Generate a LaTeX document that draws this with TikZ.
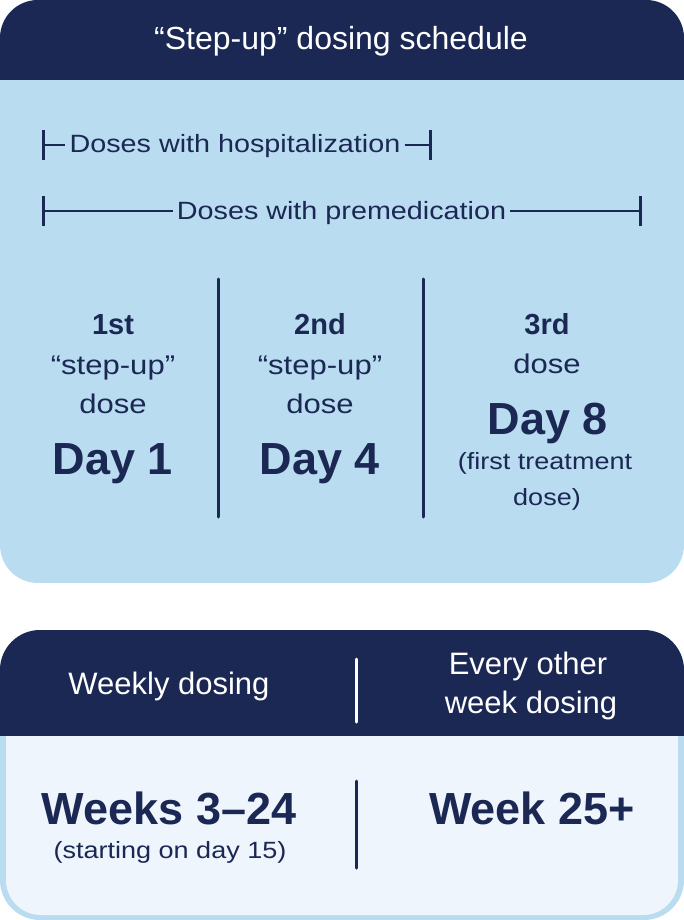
\documentclass[tikz,border=0pt]{standalone}
\usepackage{fontspec}
\setmainfont{Liberation Sans}
\newfontfamily\widefont{Liberation Sans}[FakeStretch=1.15]
\usetikzlibrary{arrows.meta}
\definecolor{navy}{HTML}{1B2854}
\definecolor{sky}{HTML}{B9DCF0}
\definecolor{pale}{HTML}{EEF5FC}

\begin{document}
\begin{tikzpicture}[
            x=1pt, y=-1pt,
            head/.style={
                text=white,
                anchor=base,
                font=\fontsize{31}{38}\selectfont
            },
            lbl/.style={
                text=navy,
                anchor=base,
                font=\widefont\fontsize{27}{32}\selectfont
            },
            note/.style={
                lbl,
                font=\widefont\fontsize{23.5}{28}\selectfont
            },
            ordinal/.style={
                text=navy,
                anchor=base,
                font=\bfseries\fontsize{29}{34}\selectfont
            },
            big/.style={
                text=navy,
                anchor=base,
                font=\bfseries\fontsize{45}{54}\selectfont
            },
            span/.style={
                draw=navy,
                line width=2.8pt
            },
            sep/.style={
                line width=3pt,
                line cap=round
            }
        ]
            \useasboundingbox (0,0) rectangle (684,920);

            % top panel
            \begin{scope}
                \clip[rounded corners=38] (0,0) rectangle (684,583);
                \fill[sky] (0,0) rectangle (684,583);
                \fill[navy] (0,0) rectangle (684,80);
            \end{scope}
            \node[head, font=\fontsize{32}{38}\selectfont] (title) at (341,50) {“Step-up” dosing schedule};

            % ranges
            \node[lbl, font=\widefont\fontsize{25}{30}\selectfont, inner sep=4pt] (hosp) at (235,153) {Doses with hospitalization};
            \coordinate (hospL) at (42,145);
            \coordinate (hospR) at (432,145);
            \draw[span, {Bar[width=30pt]}-] (hospL) -- (hosp.west |- hospL);
            \draw[span, -{Bar[width=30pt]}] (hosp.east |- hospR) -- (hospR);

            \node[lbl, font=\widefont\fontsize{25}{30}\selectfont, inner sep=4pt] (premed) at (341.5,219) {Doses with premedication};
            \coordinate (premedL) at (42,211);
            \coordinate (premedR) at (642,211);
            \draw[span, {Bar[width=30pt]}-] (premedL) -- (premed.west |- premedL);
            \draw[span, -{Bar[width=30pt]}] (premed.east |- premedR) -- (premedR);

            % step-up columns
            \foreach \x/\ord/\day [count=\i] in {
                113/1st/Day 1,
                320/2nd/Day 4
            } {
                \node[ordinal] (ord\i) at (\x,334) {\ord};
                \node[lbl] (step\i) at (\x,374) {“step-up”};
                \node[lbl] (dose\i) at (\x,413) {dose};
                \node[big] (day\i) at (\x,474) {\day};
            }
            \node[ordinal] (ord3) at (547,334) {3rd};
            \node[lbl] (dose3) at (547,373) {dose};
            \node[big] (day3) at (548,434) {Day 8};
            \node[note] (first3) at (545,469) {(first treatment};
            \node[note] (last3) at (547,505) {dose)};

            \coordinate (divAtop) at (218,279);
            \coordinate (divAbot) at (218,517);
            \coordinate (divBtop) at (423,279);
            \coordinate (divBbot) at (423,517);
            \draw[sep, navy] (divAtop) -- (divAbot);
            \draw[sep, navy] (divBtop) -- (divBbot);

            % maintenance panel
            \begin{scope}
                \clip[rounded corners=40] (0,630) rectangle (684,920);
                \fill[sky] (0,630) rectangle (684,920);
                \fill[pale, rounded corners=35] (6,600) rectangle (678,915);
                \fill[navy] (0,630) rectangle (684,736);
            \end{scope}
            \node[head] (weekly) at (169,694) {Weekly dosing};
            \node[head] (other) at (528,674) {Every other};
            \node[head] (otherb) at (531,713) {week dosing};
            \coordinate (divCtop) at (356,659);
            \coordinate (divCbot) at (356,722);
            \draw[sep, white] (divCtop) -- (divCbot);

            \node[big] (weeks) at (169,824) {Weeks 3–24};
            \node[note] (start) at (170,858) {(starting on day 15)};
            \node[big] (week25) at (532,824) {Week 25+};
            \coordinate (divDtop) at (356,781);
            \coordinate (divDbot) at (356,868);
            \draw[sep, navy] (divDtop) -- (divDbot);
        \end{tikzpicture}
\end{document}
